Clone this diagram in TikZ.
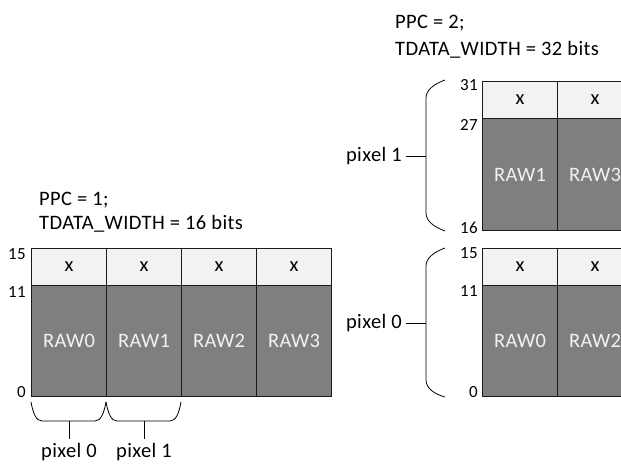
\documentclass[tikz,border=0pt]{standalone}
\usepackage{fontspec}
\setmainfont{Carlito}[LetterSpace=2]
\definecolor{cellhead}{HTML}{F2F2F2}
\definecolor{celldata}{HTML}{7F7F7F}
\definecolor{edge}{HTML}{1A1A1A}
\newcommand\diagtext{\fontsize{20.5}{24}\selectfont}
\newcommand\diagnum{\fontsize{17}{20}\selectfont}
\begin{document}
\begin{tikzpicture}[x=1pt,y=-1pt,
  cellbase/.style={draw=edge,line width=1.1pt,inner sep=0pt,anchor=north west,
    minimum width=75pt,font=\diagtext},
  headcell/.style={cellbase,fill=cellhead,minimum height=37pt},
  datacell/.style={cellbase,fill=celldata,text=cellhead,minimum height=111pt},
  bitlabel/.style={anchor=base east,inner sep=0pt,font=\diagnum},
  title/.style={anchor=base west,inner sep=0pt,font=\diagtext},
  pixlabel/.style={inner sep=0pt,font=\diagtext},
  bracket/.style={draw=black,line width=0.8pt}]
\clip (0,0) rectangle (621,464);

% ---------- PPC = 1, 16-bit bus ----------
\node[title] (t1a) at (39,205) {PPC = 1;};
\node[title] (t1b) at (39,229) {TDATA\_WIDTH = 16 bits};
\foreach \i/\lab in {0/RAW0,1/RAW1,2/RAW2,3/RAW3} {
  \node[headcell] (lh\i) at (31+75*\i,248) {x};
  \node[datacell] (ld\i) at (31+75*\i,285) {\lab};
}
\node[bitlabel] (lb15) at (26,259) {15};
\node[bitlabel] (lb11) at (26,297) {11};
\node[bitlabel] (lb0)  at (26,397) {0};

% brackets grouping samples into pixels
\node[pixlabel,anchor=base] (lp0) at (69,457.5) {pixel 0};
\node[pixlabel,anchor=base] (lp1) at (144,457.5) {pixel 1};
\coordinate (lm0) at (69,421);
\coordinate (lm1) at (144,421);
\draw[bracket] (31,402) .. controls (33,413) and (36,421) .. (42,421) -- (95,421)
  .. controls (101,421) and (104,413) .. (106,402);
\draw[bracket] (106,402) .. controls (108,413) and (111,421) .. (117,421) -- (170,421)
  .. controls (176,421) and (179,413) .. (181,402);
\draw[bracket] (lm0) -- (69,439);
\draw[bracket] (lm1) -- (144,439);

% ---------- PPC = 2, 32-bit bus ----------
\node[title] (t2a) at (395,28) {PPC = 2;};
\node[title] (t2b) at (395,55) {TDATA\_WIDTH = 32 bits};
\foreach \i/\lab in {0/RAW1,1/RAW3} {
  \node[headcell] (uh\i) at (482+75*\i,81) {x};
  \node[datacell,minimum height=112pt] (ud\i) at (482+75*\i,118) {\lab};
}
\foreach \i/\lab in {0/RAW0,1/RAW2} {
  \node[headcell] (dh\i) at (482+75*\i,248) {x};
  \node[datacell] (dd\i) at (482+75*\i,285) {\lab};
}
\node[bitlabel] (rb31) at (478,90) {31};
\node[bitlabel] (rb27) at (478,130) {27};
\node[bitlabel] (rb16) at (478,233) {16};
\node[bitlabel] (rb15) at (478,258.5) {15};
\node[bitlabel] (rb11) at (478,296.5) {11};
\node[bitlabel] (rb0)  at (478,397) {0};

% braces for the two pixel lanes
\node[pixlabel,anchor=base east] (rp1) at (402,161.5) {pixel 1};
\node[pixlabel,anchor=base east] (rp0) at (402,328.5) {pixel 0};
\coordinate (rm1) at (426,156);
\coordinate (rm0) at (426,323);
\draw[bracket] (445,80) .. controls (434,84) and (426,90) .. (426,98) -- (426,213)
  .. controls (426,221) and (434,227) .. (445,231);
\draw[bracket] (445,248) .. controls (434,252) and (426,258) .. (426,266) -- (426,380)
  .. controls (426,388) and (434,394) .. (445,397);
\draw[bracket] (rm1) -- (406,156);
\draw[bracket] (rm0) -- (406,323);
\end{tikzpicture}
\end{document}
